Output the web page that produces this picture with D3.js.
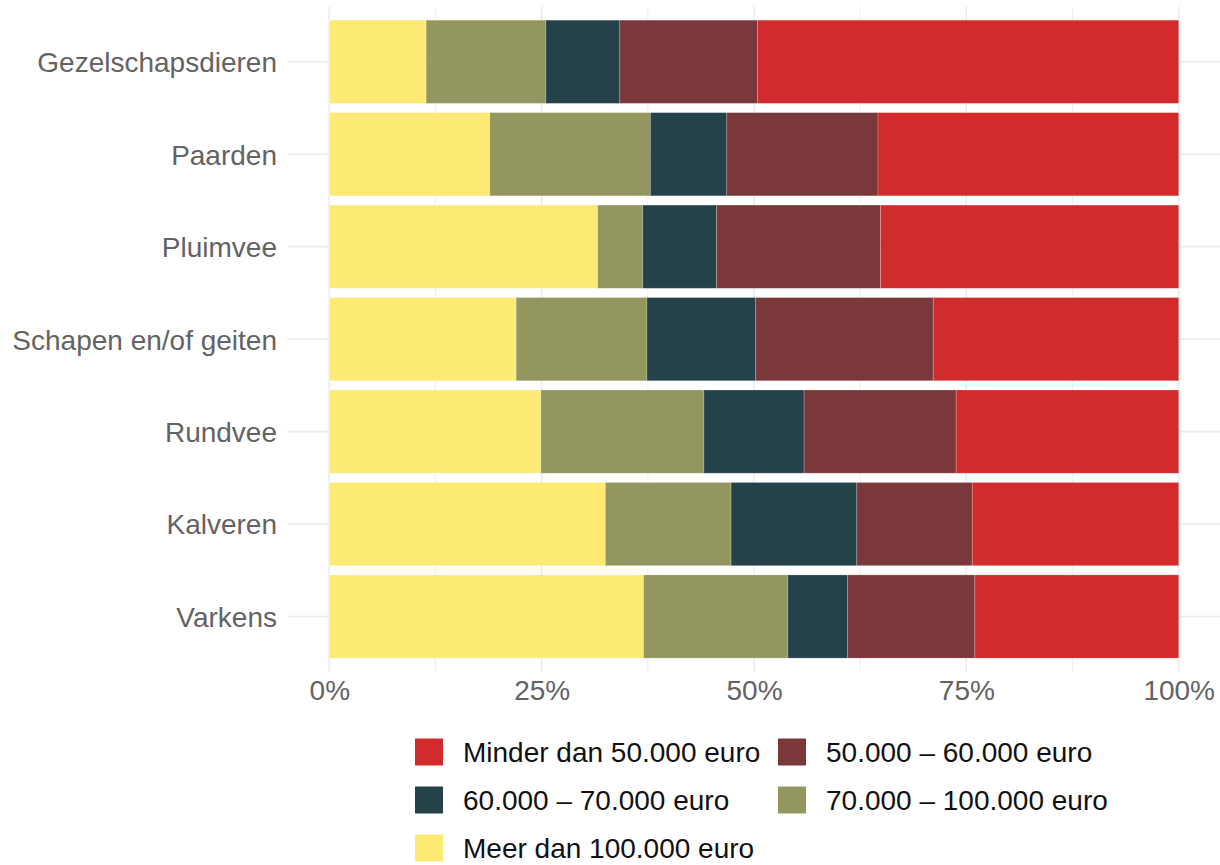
<!DOCTYPE html>
<html>
<head>
<meta charset="utf-8">
<script src="https://cdn.jsdelivr.net/npm/d3@7"></script>
<style>
  html, body { margin: 0; padding: 0; background: #ffffff; }
  svg { display: block; font-family: "Liberation Sans", Arial, sans-serif; }
</style>
</head>
<body>
<svg id="chart" width="1220" height="865"></svg>
<script>
// ---- data ----
const categories = ["Gezelschapsdieren", "Paarden", "Pluimvee", "Schapen en/of geiten", "Rundvee", "Kalveren", "Varkens"];
// stack order from left to right
const seriesKeys = ["Meer dan 100.000 euro", "70.000 – 100.000 euro", "60.000 – 70.000 euro", "50.000 – 60.000 euro", "Minder dan 50.000 euro"];
const meer100 = [11.4, 18.9, 31.6, 22.0, 24.9, 32.5, 37.0];
const v70_100 = [14.1, 18.9, 5.3, 15.4, 19.2, 14.8, 17.0];
const v60_70  = [8.7, 9.0, 8.7, 12.8, 11.8, 14.8, 7.0];
const v50_60  = [16.2, 17.8, 19.3, 20.9, 17.9, 13.6, 15.0];
const minder50 = [49.6, 35.4, 35.1, 28.9, 26.2, 24.3, 24.0];
const seriesValues = [meer100, v70_100, v60_70, v50_60, minder50];
const seriesColors = ["#FDEA75", "#93965E", "#25424A", "#7B383A", "#D22B2B"];
const xTicks = [0, 25, 50, 75, 100];
const xTickLabels = ["0%", "25%", "50%", "75%", "100%"];
const xMinor = [12.5, 37.5, 62.5, 87.5];
// legend order (two columns, by row)
const legendOrder = ["Minder dan 50.000 euro", "50.000 – 60.000 euro", "60.000 – 70.000 euro", "70.000 – 100.000 euro", "Meer dan 100.000 euro"];

// ---- build table ----
const table = categories.map((c, i) => {
  const row = { cat: c };
  seriesKeys.forEach((k, j) => { row[k] = seriesValues[j][i]; });
  return row;
});
const stacked = d3.stack().keys(seriesKeys)(table);
const color = d3.scaleOrdinal().domain(seriesKeys).range(seriesColors);

// ---- layout ----
const svg = d3.select("#chart");
const panel = { left: 287, right: 1221, top: 6.3, bottom: 672 };
const x = d3.scaleLinear().domain([0, 100]).range([329.3, 1178.7]);
const y = d3.scaleBand().domain(categories)
  .range([panel.top, panel.bottom]).paddingInner(0.1).paddingOuter(0.15);

const grid = svg.append("g");
// horizontal gridlines
grid.selectAll("line.h").data(categories).join("line")
  .attr("x1", panel.left).attr("x2", panel.right)
  .attr("y1", d => y(d) + y.bandwidth() / 2).attr("y2", d => y(d) + y.bandwidth() / 2)
  .attr("stroke", "#ebebeb").attr("stroke-width", 1.6);
// minor vertical gridlines
grid.selectAll("line.vm").data(xMinor).join("line")
  .attr("x1", d => x(d)).attr("x2", d => x(d))
  .attr("y1", panel.top).attr("y2", panel.bottom)
  .attr("stroke", "#f0f0f0").attr("stroke-width", 1.2);
// major vertical gridlines
grid.selectAll("line.v").data(xTicks).join("line")
  .attr("x1", d => x(d)).attr("x2", d => x(d))
  .attr("y1", panel.top).attr("y2", panel.bottom)
  .attr("stroke", "#ebebeb").attr("stroke-width", 1.6);

// bars
svg.append("g").selectAll("g").data(stacked).join("g")
  .attr("fill", d => color(d.key))
  .selectAll("rect").data(d => d).join("rect")
  .attr("x", d => x(d[0]))
  .attr("width", d => x(d[1]) - x(d[0]))
  .attr("y", d => y(d.data.cat))
  .attr("height", y.bandwidth())
  .attr("stroke", "rgba(255,255,255,0.25)")
  .attr("stroke-width", 0.8);

// x axis labels
const xAxis = d3.axisBottom(x).tickValues(xTicks).tickFormat((d, i) => xTickLabels[i]).tickSize(0).tickPadding(0);
const gx = svg.append("g").attr("transform", `translate(0, 680)`).call(xAxis);
gx.select(".domain").remove();
gx.selectAll("text")
  .attr("fill", "#636363").attr("font-size", "28px")
  .attr("font-family", "Liberation Sans, Arial, sans-serif")
  .attr("dy", "0.71em");

// y axis labels
const yAxis = d3.axisLeft(y).tickSize(0).tickPadding(0);
const gy = svg.append("g").attr("transform", `translate(277, 0)`).call(yAxis);
gy.select(".domain").remove();
gy.selectAll("text")
  .attr("fill", "#636363").attr("font-size", "28px")
  .attr("font-family", "Liberation Sans, Arial, sans-serif")
  .attr("dy", "0.37em");

// legend
const legend = svg.append("g");
const colX = [415, 778];
const rowY = [752, 800, 848];
legendOrder.forEach((k, i) => {
  const cx = colX[i % 2], cy = rowY[Math.floor(i / 2)];
  const g = legend.append("g").attr("transform", `translate(${cx}, ${cy})`);
  g.append("rect").attr("x", 0).attr("y", -13.5).attr("width", 28).attr("height", 27)
    .attr("fill", color(k));
  g.append("text").attr("x", 48).attr("y", 0).attr("dy", "0.36em")
    .attr("font-size", "28px").attr("fill", "#111")
    .text(k);
});
</script>
</body>
</html>
